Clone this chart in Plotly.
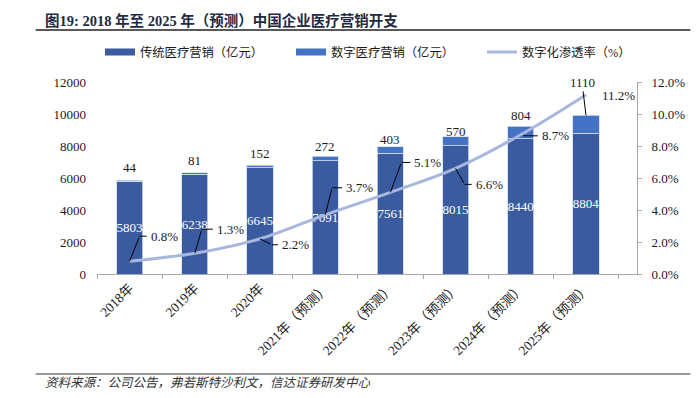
import plotly.graph_objects as go

# ---------------- data ----------------
categories = ["2018年", "2019年", "2020年", "2021年（预测）", "2022年（预测）",
              "2023年（预测）", "2024年（预测）", "2025年（预测）"]
traditional = [5803, 6238, 6645, 7091, 7561, 8015, 8440, 8804]
digital = [44, 81, 152, 272, 403, 570, 804, 1110]
penetration = [0.8, 1.3, 2.2, 3.7, 5.1, 6.6, 8.7, 11.2]
left_ticks = [0, 2000, 4000, 6000, 8000, 10000, 12000]
left_tick_labels = ["0", "2000", "4000", "6000", "8000", "10000", "12000"]
right_ticks = [0, 2, 4, 6, 8, 10, 12]
right_tick_labels = ["0.0%", "2.0%", "4.0%", "6.0%", "8.0%", "10.0%", "12.0%"]

# ---------------- style ----------------
W, H = 697, 398
ML, MR, MT, MB = 97, 54, 82, 124
PW, PH = W - ML - MR, H - MT - MB
TRAD = "#3A5BA0"
DIGI = "#4472C4"
LINE = "#A7B7DD"
AXIS = "#A6A6A6"
TXT = "#1a1a1a"
FONT = "Liberation Serif, 'Noto Sans CJK SC', serif"

def px_x(px):
    return (px - ML) / PW

def px_y(py):
    return (H - MB - py) / PH

# label placement (pixels): digital label lift above the stack
digital_label_lift = [13, 12, 12, 10, 7, 5, 11, None]
# percentage leader geometry: (dx to elbow, dy to elbow (down +), horizontal length)
pct_leaders = [(10, -25, 7), (7, -24, 11), (12, 6, 6), (7, -27, 10),
               (11, -30, 9), (9, 16, 7), (2, 1, 15), None]

fig = go.Figure()

fig.add_trace(go.Bar(
    x=categories, y=traditional, name="传统医疗营销（亿元）",
    marker=dict(color=TRAD, line=dict(color="#D6DEEF", width=0.8)),
    width=0.4, text=[str(v) for v in traditional], textposition="inside",
    insidetextanchor="middle", textangle=0, constraintext="none",
    textfont=dict(color="white", size=13, family=FONT),
    showlegend=False, hoverinfo="skip"))
fig.add_trace(go.Bar(
    x=categories, y=digital, name="数字医疗营销（亿元）",
    marker=dict(color=DIGI, line=dict(color="#D6DEEF", width=0.8)),
    width=0.4, showlegend=False, hoverinfo="skip"))
fig.add_trace(go.Scatter(
    x=categories, y=penetration, yaxis="y2", mode="lines",
    line=dict(color=LINE, width=3, shape="spline", smoothing=1),
    showlegend=False, hoverinfo="skip"))

# legend-only entries (wide swatches like the reference)
fig.add_trace(go.Scatter(x=[None], y=[None], mode="lines", name="传统医疗营销（亿元）",
                         line=dict(color=TRAD, width=7)))
fig.add_trace(go.Scatter(x=[None], y=[None], mode="lines", name="数字医疗营销（亿元）",
                         line=dict(color=DIGI, width=7)))
fig.add_trace(go.Scatter(x=[None], y=[None], mode="lines", name="数字化渗透率（%）",
                         line=dict(color=LINE, width=3)))

annotations = []
totals = [t + d for t, d in zip(traditional, digital)]
for i, cat in enumerate(categories):
    lift = digital_label_lift[i]
    if lift is not None:
        annotations.append(dict(x=cat, y=totals[i], xref="x", yref="y", text=str(digital[i]),
                                showarrow=False, yshift=lift,
                                font=dict(size=13, family=FONT, color=TXT)))
    else:
        annotations.append(dict(x=cat, y=totals[i], xref="x", yref="y", text=str(digital[i]),
                                showarrow=True, arrowhead=0, arrowwidth=1, arrowcolor="#000",
                                ax=-4, ay=-33, standoff=0,
                                font=dict(size=13, family=FONT, color=TXT)))
    lab = f"{penetration[i]:.1f}%"
    g = pct_leaders[i]
    if g is None:
        annotations.append(dict(x=cat, y=penetration[i], xref="x", yref="y2", text=lab,
                                showarrow=False, xanchor="left", xshift=14, yshift=-1,
                                font=dict(size=13, family=FONT, color=TXT)))
        continue
    dx, dy, hl = g
    if abs(dx) + abs(dy) > 4:
        annotations.append(dict(x=cat, y=penetration[i], xref="x", yref="y2", text="",
                                showarrow=True, arrowhead=0, arrowwidth=1, arrowcolor="#000",
                                ax=dx, ay=dy, standoff=0))
    annotations.append(dict(x=cat, y=penetration[i], xref="x", yref="y2", text=lab,
                            showarrow=True, arrowhead=0, arrowwidth=1, arrowcolor="#000",
                            ax=hl, ay=0, standoff=0, xanchor="left", borderpad=3,
                            xshift=dx, yshift=-dy,
                            font=dict(size=13, family=FONT, color=TXT)))

# source line
annotations.append(dict(xref="paper", yref="paper", x=px_x(42), y=px_y(383),
                        xanchor="left", yanchor="middle", showarrow=False,
                        text="<i>资料来源：公司公告，弗若斯特沙利文，信达证券研发中心</i>",
                        font=dict(size=12.5, family=FONT, color="#333")))

shapes = [
    dict(type="line", xref="paper", yref="paper", x0=px_x(35), x1=px_x(697),
         y0=px_y(30), y1=px_y(30), line=dict(color="#222", width=1.5)),
    dict(type="line", xref="paper", yref="paper", x0=px_x(35), x1=px_x(697),
         y0=px_y(374), y1=px_y(374), line=dict(color="#777", width=1.5)),
]

fig.update_layout(
    width=W, height=H,
    margin=dict(l=ML, r=MR, t=MT, b=MB, pad=0),
    paper_bgcolor="white", plot_bgcolor="white",
    barmode="stack",
    font=dict(family=FONT, size=12.5, color=TXT),
    title=dict(text="<b>图19: 2018 年至 2025 年（预测）中国企业医疗营销开支</b>",
               xref="container", yref="container", x=45 / W, y=1 - 21 / H,
               xanchor="left", yanchor="middle",
               font=dict(size=14.5, family=FONT, color="#1F2A44")),
    legend=dict(orientation="h", x=px_x(96), xanchor="left",
                y=px_y(52), yanchor="middle",
                traceorder="normal", entrywidth=146, entrywidthmode="pixels",
                borderwidth=4, bordercolor="rgba(0,0,0,0)",
                font=dict(size=12.3, family=FONT, color=TXT), bgcolor="rgba(0,0,0,0)",
                itemwidth=30),
    xaxis=dict(type="category", tickson="boundaries", ticks="outside", ticklen=4,
               tickcolor=AXIS, showline=True, linecolor=AXIS, linewidth=1,
               tickangle=-45, showgrid=False, zeroline=False,
               tickfont=dict(size=13.5, family=FONT, color=TXT)),
    yaxis=dict(range=[0, 12000], tickmode="array", tickvals=left_ticks,
               ticktext=left_tick_labels,
               showline=False, showgrid=False, zeroline=False, ticks="",
               ticklabelstandoff=10, tickfont=dict(size=13, family=FONT, color=TXT)),
    yaxis2=dict(overlaying="y", side="right", range=[0, 12], tickmode="array",
                tickvals=right_ticks, ticktext=right_tick_labels,
                showline=True, linecolor=AXIS, ticks="outside", ticklen=4, tickcolor=AXIS,
                showgrid=False, zeroline=False, ticklabelstandoff=7,
                tickfont=dict(size=13, family=FONT, color=TXT)),
    annotations=annotations,
    shapes=shapes,
)

fig.write_html("out.html", config={"displayModeBar": False},
               post_script="document.body.style.margin='0';")
